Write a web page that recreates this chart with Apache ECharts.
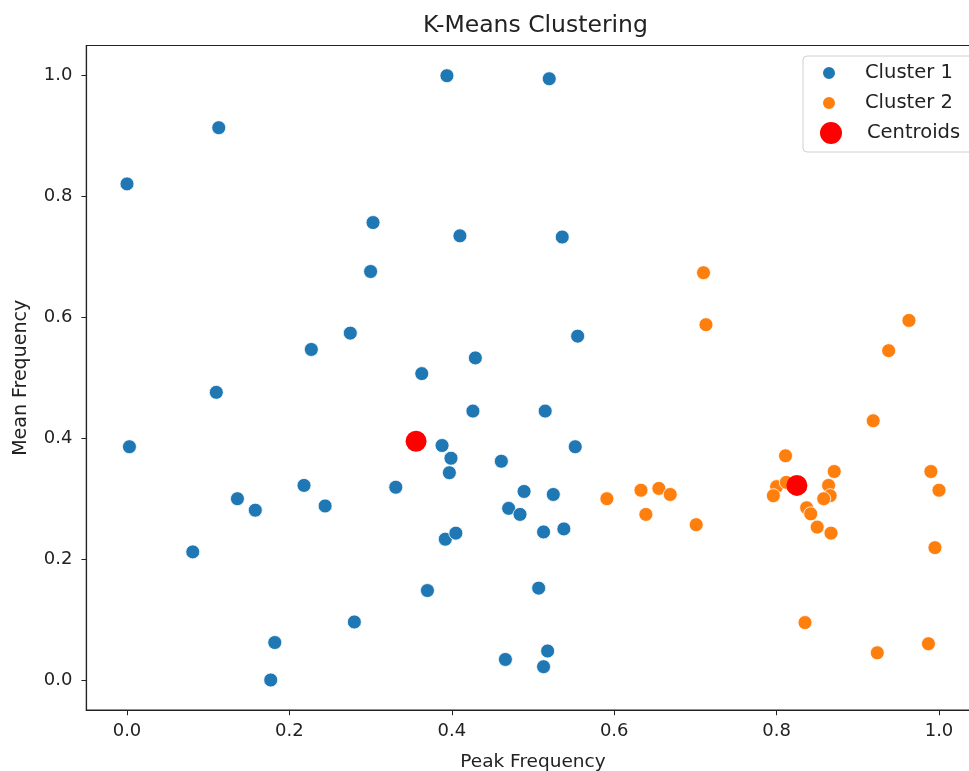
<!DOCTYPE html>
<html>
<head>
<meta charset="utf-8">
<script src="https://cdn.jsdelivr.net/npm/echarts@6/dist/echarts.min.js"></script>
<style>
  html, body { margin: 0; padding: 0; background: #fff; }
  #chart { width: 969px; height: 771px; }
</style>
</head>
<body>
<div id="chart"></div>
<script>
// Peak Frequency / Mean Frequency pairs
const cluster1 = [
  [0.394, 1.000], [0.113, 0.914], [0.000, 0.821], [0.520, 0.995],
  [0.303, 0.757], [0.410, 0.735], [0.536, 0.733], [0.300, 0.676],
  [0.275, 0.574], [0.227, 0.547], [0.555, 0.569], [0.429, 0.533],
  [0.363, 0.507], [0.110, 0.476], [0.426, 0.445], [0.515, 0.445],
  [0.003, 0.386], [0.388, 0.388], [0.552, 0.386], [0.399, 0.367],
  [0.397, 0.343], [0.461, 0.362], [0.218, 0.322], [0.331, 0.319],
  [0.136, 0.300], [0.158, 0.281], [0.244, 0.288], [0.489, 0.312],
  [0.525, 0.307], [0.470, 0.284], [0.484, 0.274], [0.392, 0.233],
  [0.405, 0.243], [0.513, 0.245], [0.538, 0.250], [0.081, 0.212],
  [0.370, 0.148], [0.507, 0.152], [0.280, 0.096], [0.182, 0.062],
  [0.177, 0.000], [0.466, 0.034], [0.518, 0.048], [0.513, 0.022]
];

const cluster2 = [
  [0.591, 0.300], [0.633, 0.314], [0.655, 0.317], [0.669, 0.307],
  [0.639, 0.274], [0.701, 0.257], [0.710, 0.674], [0.713, 0.588],
  [0.811, 0.371], [0.800, 0.320], [0.796, 0.305], [0.812, 0.327],
  [0.871, 0.345], [0.864, 0.322], [0.866, 0.305], [0.858, 0.300],
  [0.837, 0.285], [0.842, 0.275], [0.850, 0.253], [0.867, 0.243],
  [0.919, 0.429], [0.990, 0.345], [1.000, 0.314], [0.995, 0.219],
  [0.835, 0.095], [0.924, 0.045], [0.987, 0.060], [0.963, 0.595],
  [0.938, 0.545]
];

const centroids = [[0.356, 0.395], [0.825, 0.322]];

const xTicks = [0, 0.2, 0.4, 0.6, 0.8, 1.0];
const yTicks = [0, 0.2, 0.4, 0.6, 0.8, 1.0];

const chart = echarts.init(document.getElementById('chart'));
const font = 'DejaVu Sans';

const axisCommon = {
  type: 'value',
  min: -0.05,
  max: 1.05,
  splitLine: { show: false },
  axisLine: { show: true, onZero: false, lineStyle: { color: '#222', width: 1.2 } },
  axisTick: { show: true, inside: false, length: 5, lineStyle: { color: '#222', width: 1 } },
  nameLocation: 'middle'
};

chart.setOption({
  animation: false,
  backgroundColor: '#fff',
  title: {
    text: 'K-Means Clustering',
    left: 418,
    top: 9,
    textStyle: { fontFamily: font, fontSize: 23.5, fontWeight: 'normal', color: '#222' }
  },
  grid: {
    left: 86.4,
    right: -10.6,
    top: 45.5,
    bottom: 60.8,
    containLabel: false,
    outerBoundsMode: 'none',
    show: true,
    borderColor: '#222',
    borderWidth: 1.2
  },
  xAxis: Object.assign({}, axisCommon, {
    name: 'Peak Frequency',
    nameGap: 42,
    nameTextStyle: { fontFamily: font, fontSize: 18.5, color: '#222' },
    axisTick: Object.assign({}, axisCommon.axisTick, { customValues: xTicks }),
    axisLabel: {
      customValues: xTicks,
      margin: 12,
      fontFamily: font, fontSize: 18, color: '#222',
      formatter: v => v.toFixed(1)
    }
  }),
  yAxis: Object.assign({}, axisCommon, {
    name: 'Mean Frequency',
    nameGap: 56,
    nameTextStyle: { fontFamily: font, fontSize: 19, color: '#222' },
    axisTick: Object.assign({}, axisCommon.axisTick, { customValues: yTicks }),
    axisLabel: {
      customValues: yTicks,
      margin: 14,
      fontFamily: font, fontSize: 18, color: '#222',
      formatter: v => v.toFixed(1)
    }
  }),
  graphic: [{
    type: 'rect',
    z: 3,
    shape: { x: 803, y: 56, width: 180, height: 96, r: 4 },
    style: { fill: 'rgba(255,255,255,0.8)', stroke: '#d0d0d0', lineWidth: 1 }
  }],
  legend: [
    {
      data: ['Cluster 1', 'Cluster 2'],
      orient: 'vertical',
      left: 821,
      top: 63,
      padding: 0,
      icon: 'circle',
      itemWidth: 62,
      itemHeight: 14,
      itemGap: 10,
      textStyle: { fontFamily: font, fontSize: 19.5, color: '#222', lineHeight: 20 }
    },
    {
      data: ['Centroids'],
      orient: 'vertical',
      left: 820,
      top: 122,
      padding: 0,
      icon: 'circle',
      itemWidth: 62,
      itemHeight: 22,
      textStyle: { fontFamily: font, fontSize: 19.5, color: '#222', lineHeight: 20 }
    }
  ],
  series: [
    {
      name: 'Cluster 1',
      type: 'scatter',
      data: cluster1,
      symbolSize: 14,
      itemStyle: { color: '#1f77b4', borderColor: '#fff', borderWidth: 0.8, opacity: 1 }
    },
    {
      name: 'Cluster 2',
      type: 'scatter',
      data: cluster2,
      symbolSize: 14,
      itemStyle: { color: '#ff7f0e', borderColor: '#fff', borderWidth: 0.8, opacity: 1 }
    },
    {
      name: 'Centroids',
      type: 'scatter',
      data: centroids,
      symbolSize: 21,
      z: 3,
      itemStyle: { color: '#ff0000', opacity: 1 }
    }
  ]
});
</script>
</body>
</html>
